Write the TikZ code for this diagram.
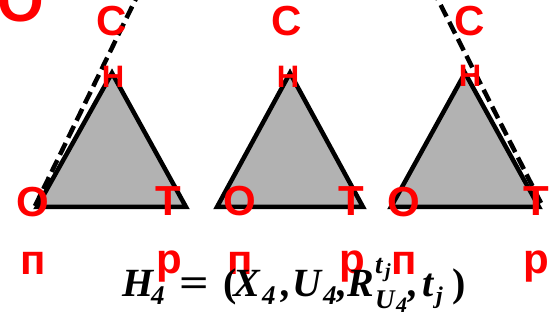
\documentclass[tikz,border=0pt]{standalone}
\usepackage{graphicx}
\usepackage{fontspec}
\setsansfont{Liberation Sans}
\newfontfamily\fmfont{Liberation Serif}
% place a piece of the formula at horizontal offset #1, raised by #2, size #3
\newcommand{\fpc}[4]{\makebox[0pt][l]{\hspace*{#1pt}\raisebox{#2pt}{\fontsize{#3}{#3}\selectfont #4}}}
\tikzset{
  tri/.style={draw=black,fill=black!30,line width=4.5pt,line join=miter},
  dashline/.style={draw=black,line width=4.5pt,dash pattern=on 13pt off 6pt},
  lbl/.style={text=red,inner sep=0pt,anchor=center,font={\sffamily\bfseries\fontsize{42}{48}\selectfont}},
  lblsmall/.style={lbl,font={\sffamily\bfseries\fontsize{31}{36}\selectfont}},
  lblbig/.style={lbl,font={\sffamily\bfseries\fontsize{60}{70}\selectfont}},
  formula/.style={anchor=base west,inner sep=0pt,font={\fmfont\bfseries\itshape}},
}
\begin{document}
\begin{tikzpicture}[x=1pt,y=-1pt]
\clip (0,0) rectangle (549,331);
% triangles
\draw[tri] (37,207) coordinate (t1l) -- (112,73) coordinate (t1a) -- (186,207) coordinate (t1r) -- cycle;
\draw[tri] (217,207) coordinate (t2l) -- (290,73) coordinate (t2a) -- (363,207) coordinate (t2r) -- cycle;
\draw[tri] (391,207) coordinate (t3l) -- (465,73) coordinate (t3a) -- (539,207) coordinate (t3r) -- cycle;
% dashed lines
\coordinate (d1b) at (35,206);
\coordinate (d1t) at (145,-20);
\coordinate (d2b) at (541,203);
\coordinate (d2t) at (428,-20);
\draw[dashline] (d1b) -- (d1t);
\draw[dashline] (d2b) -- (d2t);
% labels
\node[lblbig] (obig) at (21,1) {О};
\node[lbl] (c1) at (112,21.5) {С};
\node[lbl] (c2) at (287,21.5) {С};
\node[lbl] (c3) at (470,21.5) {С};
\node[lblsmall] (h1) at (113,77) {Н};
\node[lblsmall] (h2) at (288,76.5) {Н};
\node[lblsmall] (h3) at (470,76) {Н};
\node[lbl] (o1) at (33,202) {О};
\node[lbl] (o2) at (240,201) {О};
\node[lbl] (o3) at (404,202) {О};
\node[lbl] (tt1) at (168,201) {Т};
\node[lbl] (tt2) at (351,201) {Т};
\node[lbl] (tt3) at (536,201) {Т};
\node[lbl] (p1) at (33,263) {п};
\node[lbl] (p2) at (240,263) {п};
\node[lbl] (p3) at (404,263) {п};
\node[lbl] (r1) at (169,267) {р};
\node[lbl] (r2) at (352,267) {р};
\node[lbl] (r3) at (536,267) {р};
% formula  H_4 = (X_4, U_4, R^{t_j}_{U_4}, t_j)
\node[formula] (fm) at (122,296) {%
\fpc{0}{0}{40}{H}%
\fpc{29}{-9}{27}{4}%
\fpc{57}{0}{40}{\upshape\scalebox{1.3}[1]{=}}%
\fpc{101}{0}{40}{\upshape (}%
\fpc{111}{0}{40}{X}%
\fpc{140}{-9}{27}{4}%
\fpc{159}{0}{40}{,}%
\fpc{170}{0}{40}{U}%
\fpc{201}{-9}{27}{4}%
\fpc{215}{0}{40}{,}%
\fpc{225}{0}{40}{R}%
\fpc{253}{23}{27}{t}%
\fpc{263}{19}{20}{j}%
\fpc{253}{-12}{27}{U}%
\fpc{274}{-17}{22}{4}%
\fpc{286}{0}{40}{,}%
\fpc{300}{0}{40}{t}%
\fpc{314}{-7}{24}{j}%
\fpc{330}{0}{40}{\upshape )}%
\hspace*{344pt}};
\end{tikzpicture}
\end{document}
